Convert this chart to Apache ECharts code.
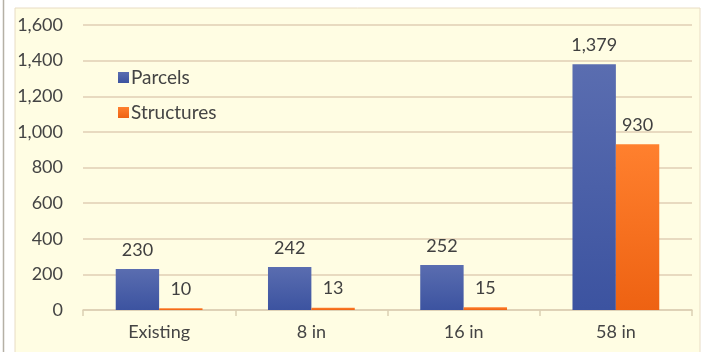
<!DOCTYPE html>
<html><head><meta charset="utf-8">
<script src="https://cdn.jsdelivr.net/npm/echarts@6/dist/echarts.min.js"></script>
<style>html,body{margin:0;padding:0;background:#fff}#c{width:703px;height:352px}</style>
</head><body><div id="c"></div>
<script>
const categories = ['Existing', '8 in', '16 in', '58 in'];
const parcels = [230, 242, 252, 1379];
const structures = [10, 13, 15, 930];
const seriesNames = ['Parcels', 'Structures'];

const chart = echarts.init(document.getElementById('c'), null, {renderer: 'canvas'});
const font = 'Lato, "Open Sans", sans-serif';
const fmt = v => v.toLocaleString('en-US');
chart.setOption({
  backgroundColor: '#ffffff',
  animation: false,
  color: ['#4A5FA8', '#F57020'],
  graphic: [
    {type: 'rect', z: -10, shape: {x: 15, y: 8, width: 685, height: 350},
     style: {fill: '#FFFDE3', stroke: '#E8DCC4', lineWidth: 1}},
    {type: 'line', z: -10, shape: {x1: 3.5, y1: 0, x2: 3.5, y2: 352},
     style: {stroke: '#B5B0A5', lineWidth: 1.5}}
  ],
  legend: {
    orient: 'vertical', left: 113, top: 63, itemGap: 16,
    itemWidth: 11, itemHeight: 11, icon: 'rect',
    textStyle: {fontFamily: font, fontSize: 19, color: '#444', padding: [0,0,0,-3]},
    data: seriesNames
  },
  grid: {left: 83, right: 11, top: 25, bottom: 42, containLabel: false},
  xAxis: {
    type: 'category', data: categories,
    axisLine: {lineStyle: {color: '#DCCFB4', width: 1.5}},
    axisTick: {show: true, length: 6, lineStyle: {color: '#DCCFB4', width: 1.5}},
    axisLabel: {fontFamily: font, fontSize: 18, color: '#444', margin: 13}
  },
  yAxis: {
    type: 'value', min: 0, max: 1600, interval: 200,
    axisLine: {show: false}, axisTick: {show: false},
    axisLabel: {fontFamily: font, fontSize: 18, color: '#444', margin: 20, formatter: fmt},
    splitLine: {lineStyle: {color: '#E8DAC0', width: 2}}
  },
  series: [
    {name: seriesNames[0], type: 'bar', data: parcels, barGap: '0%', barCategoryGap: '43%',
     itemStyle: {color: new echarts.graphic.LinearGradient(0,0,0,1,[{offset:0,color:'#5A6DB0'},{offset:1,color:'#3C53A0'}])},
     label: {show: true, position: 'top', distance: 10, fontFamily: font, fontSize: 18, color: '#404040', formatter: p => fmt(p.value)}},
    {name: seriesNames[1], type: 'bar', data: structures,
     itemStyle: {color: new echarts.graphic.LinearGradient(0,0,0,1,[{offset:0,color:'#FF802E'},{offset:1,color:'#EE6212'}])},
     label: {show: true, position: 'top', distance: 10, fontFamily: font, fontSize: 18, color: '#404040', formatter: p => fmt(p.value)}}
  ]
});
</script></body></html>
